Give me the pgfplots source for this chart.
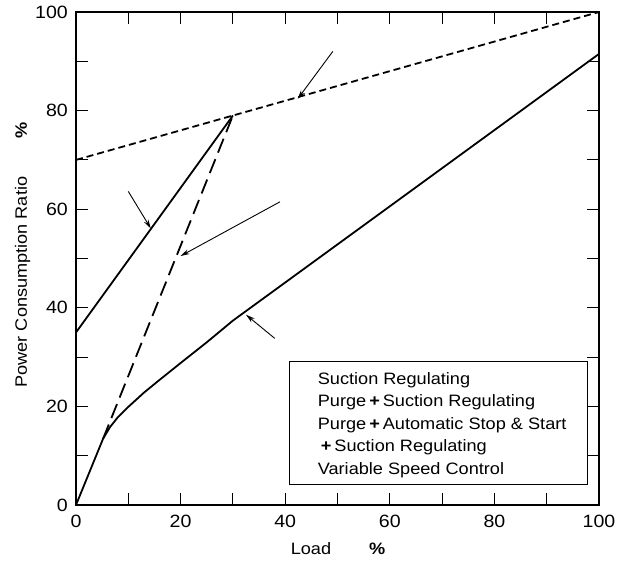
\documentclass[border=0pt]{standalone}
\usepackage{fontspec}
\setmainfont{Liberation Sans}[FakeStretch=1.1]
\usepackage{pgfplots}
\pgfplotsset{compat=1.18}
\usetikzlibrary{arrows.meta}
\begin{document}
\fontsize{16.5}{20}\selectfont
\begin{tikzpicture}
\useasboundingbox (-76pt,-55pt) rectangle (552pt,505pt);
\begin{axis}[
  at={(0,0)}, anchor=south west,
  scale only axis, width=523pt, height=493pt,
  xmin=0, xmax=100, ymin=0, ymax=100,
  xtick={0,20,...,100}, ytick={0,20,...,100},
  minor xtick={10,30,...,90}, minor ytick={10,30,...,90},
  tick align=inside,
  major tick length=11.7pt, minor tick length=11.7pt,
  every tick/.style={black, line width=0.9pt},
  axis line style={line width=1.2pt},
  /pgf/number format/assume math mode=true,
  tick label style={font=\fontsize{17.8}{20}\selectfont},
  xticklabel style={inner sep=0pt, anchor=center, yshift=-16.5pt},
  yticklabel style={inner sep=0pt, anchor=east, xshift=-8pt},
  xlabel={Load\hspace{38pt}\textbf{\%}},
  ylabel={Power Consumption Ratio\hspace{38pt}\textbf{\%}},
  xlabel style={at={(axis description cs:0.501,-0.0892)}, anchor=center, inner sep=0pt},
  ylabel style={at={(axis description cs:-0.1019,0.507)}, anchor=center, inner sep=0pt},
  clip=false,
]
% Suction Regulating
\addplot[black, line width=1.8pt, dash pattern=on 7pt off 4pt] coordinates {(0,70) (100,100)};
% Purge + Suction Regulating
\addplot[black, line width=1.8pt] coordinates {(0,35) (30,79)};
% Purge + Automatic Stop & Start + Suction Regulating
\addplot[black, line width=1.8pt, dash pattern=on 15pt off 7pt] coordinates {(5.2,13.5) (30,79)};
% Variable Speed Control
\addplot[black, line width=1.8pt, line join=round] coordinates {(0,0) (5.2,13.5) (6.5,15.8) (8,17.8) (10,19.9) (13,22.8) (16,25.4) (20,28.8) (25,33.0) (30,37.4) (100,91.5)};

\draw[line width=0.9pt, -{Stealth[length=9pt,width=5pt]}] (axis cs:49.1,92.0) -- (axis cs:42.4,82.4);
\draw[line width=0.9pt, -{Stealth[length=9pt,width=5pt]}] (axis cs:10.0,63.6) -- (axis cs:14.3,56.1);
\draw[line width=0.9pt, -{Stealth[length=9pt,width=5pt]}] (axis cs:39.0,61.5) -- (axis cs:20.0,50.5);
\draw[line width=0.9pt, -{Stealth[length=9pt,width=5pt]}] (axis cs:38.0,33.8) -- (axis cs:32.5,38.6);

\draw[line width=1pt, fill=white] (axis cs:40.9,4.2) rectangle (axis cs:97.8,29.2);
\node[anchor=north west, inner sep=0pt, align=left, font=\fontsize{16.5}{22.6}\selectfont] at (axis cs:46.2,27.0)
{Suction Regulating\\
Purge\hspace{3pt}\textbf{+}\hspace{3pt}Suction Regulating\\
Purge\hspace{3pt}\textbf{+}\hspace{3pt}Automatic Stop \& Start\\
\hspace{3pt}\textbf{+}\hspace{3pt}Suction Regulating\\
Variable Speed Control};
\end{axis}
\end{tikzpicture}
\end{document}
